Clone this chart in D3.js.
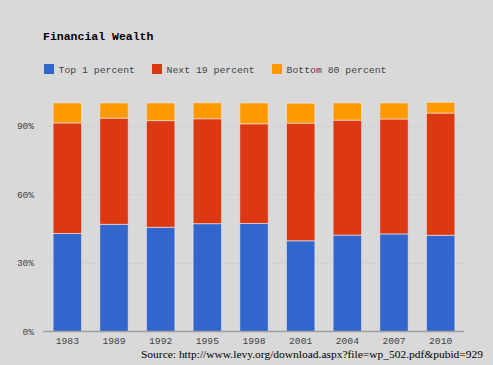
<!DOCTYPE html>
<html><head><meta charset="utf-8">
<script src="https://cdn.jsdelivr.net/npm/d3@7"></script>
<style>html,body{margin:0;padding:0;background:#d9d9d9;}svg{display:block;}</style>
</head><body>
<script>
const years = ["1983","1989","1992","1995","1998","2001","2004","2007","2010"];
const top1 = [42.9,46.9,45.6,47.2,47.3,39.7,42.2,42.7,42.1];
const next19 = [48.4,46.5,46.7,45.9,43.6,51.5,50.3,50.3,53.5];
const bottom80 = [8.7,6.6,7.7,7.0,9.1,8.7,7.5,7.0,4.7];
const seriesNames = ["Top 1 percent","Next 19 percent","Bottom 80 percent"];
const colors = ["#3366cc","#dc3912","#ff9900"];
const yTicks = [0,30,60,90];
const title = "Financial Wealth";
const source = "Source: http://www.levy.org/download.aspx?file=wp_502.pdf&pubid=929";

const W=493,H=365;
const svg=d3.select("body").append("svg").attr("width",W).attr("height",H);
svg.append("rect").attr("width",W).attr("height",H).attr("fill","#d9d9d9");

const x=d3.scaleBand().domain(years).range([44,464]).paddingInner(0.39).paddingOuter(0.195);
const y=d3.scaleLinear().domain([0,100]).range([331.5,103]);

const rows=years.map((yr,i)=>({year:yr,s0:top1[i],s1:next19[i],s2:bottom80[i]}));
const stack=d3.stack().keys(["s0","s1","s2"])(rows);

// gridlines
svg.append("g").selectAll("line").data(yTicks.slice(1)).join("line")
  .attr("x1",44).attr("x2",464).attr("y1",d=>Math.round(y(d))+0.5).attr("y2",d=>Math.round(y(d))+0.5)
  .attr("stroke","#d2d2d2").attr("stroke-width",1);

stack.forEach((layer,k)=>{
  svg.append("g").selectAll("rect").data(layer).join("rect")
    .attr("x",d=>x(d.data.year)).attr("width",x.bandwidth())
    .attr("y",d=>y(d[1])).attr("height",d=>y(d[0])-y(d[1]))
    .attr("fill",colors[k]).attr("stroke","#ececec").attr("stroke-opacity",0.6).attr("stroke-width",1);
});

// baseline
svg.append("line").attr("x1",43).attr("x2",464).attr("y1",331.5).attr("y2",331.5).attr("stroke","#a0a0a0").attr("stroke-width",1.5);

// y axis labels
const yAxis=d3.axisLeft(y).tickValues(yTicks).tickFormat(d=>d+"%").tickSize(0).tickPadding(0);
const ga=svg.append("g").attr("transform","translate(34,0)").call(yAxis);
ga.select(".domain").remove();
ga.selectAll("text").attr("font-family","Liberation Mono, monospace").attr("font-size","9.5px").attr("fill","#444");

// x axis labels
const xAxis=d3.axisBottom(x).tickSize(0).tickPadding(0);
const gx=svg.append("g").attr("transform","translate(0,337)").call(xAxis);
gx.select(".domain").remove();
gx.selectAll("text").attr("font-family","Liberation Mono, monospace").attr("font-size","9.7px").attr("fill","#444");

// title
svg.append("text").attr("x",43).attr("y",39.5).text(title)
  .attr("font-family","Liberation Mono, monospace").attr("font-weight","bold").attr("font-size","11.5px").attr("fill","#000");

// legend
const legX=[44,152,272];
seriesNames.forEach((n,i)=>{
  svg.append("rect").attr("x",legX[i]).attr("y",64).attr("width",10).attr("height",10).attr("fill",colors[i]);
  svg.append("text").attr("x",legX[i]+14.5).attr("y",72.5).text(n)
    .attr("font-family","Liberation Mono, monospace").attr("font-size","9.8px").attr("fill","#444");
});

// source
svg.append("text").attr("x",141).attr("y",358).text(source)
  .attr("font-family","Liberation Serif, serif").attr("font-size","10.5px").attr("fill","#000")
  .attr("textLength",342).attr("lengthAdjust","spacingAndGlyphs");
</script>
</body></html>
